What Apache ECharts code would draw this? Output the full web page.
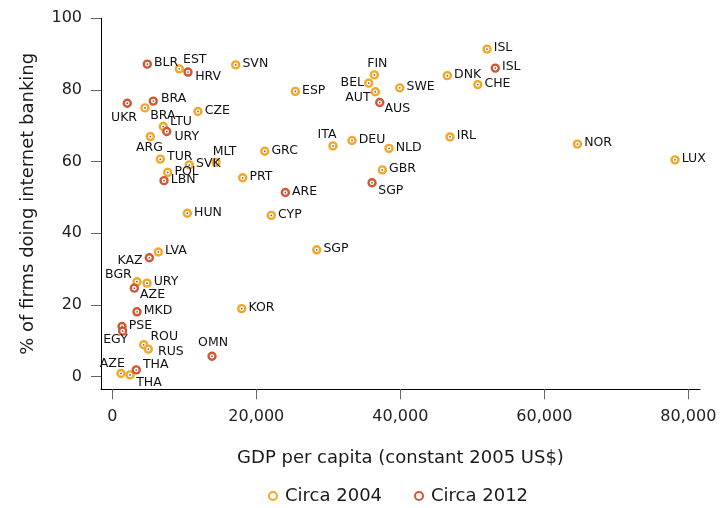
<!DOCTYPE html>
<html>
<head>
<meta charset="utf-8">
<script src="https://cdn.jsdelivr.net/npm/echarts@6/dist/echarts.min.js"></script>
<style>html,body{margin:0;padding:0;background:#fff}#c{width:727px;height:508px}</style>
</head>
<body>
<div id="c"></div>
<script>
// ---- Data ----
const codes2004 = ['EST','SVN','BRA','CZE','LTU','ARG','TUR','SVK','MLT','POL','GRC','PRT','HUN','CYP','LVA','BGR','URY','ROU','RUS','AZE','THA','KOR','SGP','ESP','FIN','BEL','AUT','SWE','ISL','DNK','CHE','ITA','DEU','NLD','IRL','GBR','NOR','LUX'];
const gdp2004 = [9310,17140,4540,11900,7080,5280,6670,10690,14400,7690,21170,18110,10420,22080,6390,3430,4820,4360,5000,1210,2460,17970,28390,25420,36390,35610,36530,39920,52040,46530,50750,30650,33290,38430,46900,37500,64600,78150];
const pct2004 = [85.9,87.0,75.0,74.0,69.8,67.0,60.7,59.1,59.8,57.0,62.9,55.5,45.6,45.0,34.8,26.5,26.1,8.9,7.7,0.9,0.5,19.0,35.4,79.6,84.2,81.9,79.5,80.6,91.4,84.0,81.5,64.4,65.9,63.7,66.9,57.7,64.9,60.5];

const codes2012 = ['BLR','HRV','UKR','BRA','URY','LBN','ARE','KAZ','AZE','MKD','PSE','EGY','OMN','THA','AUS','ISL','SGP'];
const gdp2012 = [4860,10510,2080,5690,7560,7180,24030,5140,3060,3430,1350,1440,13850,3330,37140,53190,36070];
const pct2012 = [87.2,85.0,76.3,76.9,68.4,54.7,51.4,33.2,24.7,18.1,14.0,12.7,5.7,1.9,76.5,86.1,54.1];

const seriesNames = ['Circa 2004','Circa 2012'];
const xTicks = [0,20000,40000,60000,80000];
const yTicks = [0,20,40,60,80,100];

// ---- Label layout (placement of country codes, not data) ----
const labelLayout2004 = {
  EST:['right',-3,-9.5], BRA:['right',-1.5,7.5], LTU:['right',0,-4.5], ARG:['right',-21,11],
  TUR:['right',0,-2], MLT:['right',-10,-11], ITA:['top',-6,2.5], FIN:['top',3,2],
  BEL:['left',2,0], AUT:['left',2,6], BGR:['left',1.5,-6.7], AZE:['left',10.5,-9.3],
  ROU:['right',0,-8], RUS:['right',3,2.3], THA:['right',-0.5,7.7]
};
const labelLayout2012 = {
  HRV:['right',0.5,4.7], UKR:['right',-23,15], BRA:['right',1,-2], URY:['right',1,5],
  KAZ:['left',0,2.6], AZE:['right',-1,7], EGY:['left',11.8,8.7], OMN:['top',1,0],
  THA:['right',0,-5], AUS:['right',-2,6.3], SGP:['right',-0.5,8.3]
};

const ORANGE = '#f5a623', RED = '#d4552f';
const FONT = 'DejaVu Sans';

function buildData(codes, xs, ys, layout) {
  return codes.map((c, i) => {
    const lp = layout[c] || ['right', 0, -1];
    return {
      name: c,
      value: [xs[i], ys[i]],
      label: { position: lp[0], offset: [lp[1], lp[2]] }
    };
  });
}
function dotData(xs, ys) { return xs.map((x, i) => [x, ys[i]]); }

const labelStyle = { show: true, formatter: p => p.name, fontFamily: FONT, fontSize: 12.5, color: '#111', distance: 2 };

const chart = echarts.init(document.getElementById('c'), null, { renderer: 'canvas' });
chart.setOption({
  animation: false,
  backgroundColor: '#fff',
  textStyle: { fontFamily: FONT },
  grid: { left: 101, top: 18.3, width: 599, height: 371, containLabel: false, outerBoundsMode: 'none' },
  legend: {
    data: seriesNames,
    left: 263, top: 482,
    itemWidth: 8, itemHeight: 8, itemGap: 32,
    textStyle: { fontFamily: FONT, fontSize: 18, color: '#1a1a1a', padding: [0, 0, 0, 3] }
  },
  xAxis: {
    type: 'value', min: -1570, max: 81620,
    name: 'GDP per capita (constant 2005 US$)', nameLocation: 'middle', nameGap: 60,
    nameTextStyle: { fontFamily: FONT, fontSize: 18, color: '#1a1a1a' },
    axisLine: { show: true, onZero: false, lineStyle: { color: '#000', width: 1 } },
    axisTick: { show: true, length: 10, customValues: xTicks, lineStyle: { color: '#666' } },
    axisLabel: { customValues: xTicks, margin: 20, fontFamily: FONT, fontSize: 16, color: '#222',
      formatter: v => String(v).replace(/\B(?=(\d{3})+(?!\d))/g, ',') },
    splitLine: { show: false }
  },
  yAxis: {
    type: 'value', min: -3.52, max: 100,
    name: '% of firms doing internet banking', nameLocation: 'middle', nameGap: 64,
    nameTextStyle: { fontFamily: FONT, fontSize: 18, color: '#1a1a1a' },
    axisLine: { show: true, onZero: false, lineStyle: { color: '#000', width: 1 } },
    axisTick: { show: true, length: 10, customValues: yTicks, lineStyle: { color: '#666' } },
    axisLabel: { customValues: yTicks, margin: 19, fontFamily: FONT, fontSize: 16, color: '#222' },
    splitLine: { show: false }
  },
  series: [
    {
      name: seriesNames[0], type: 'scatter', symbol: 'circle', symbolSize: 7,
      itemStyle: { color: '#fff', borderColor: ORANGE, borderWidth: 2.4, opacity: 1 },
      label: labelStyle, z: 3,
      data: buildData(codes2004, gdp2004, pct2004, labelLayout2004)
    },
    {
      name: seriesNames[1], type: 'scatter', symbol: 'circle', symbolSize: 7,
      itemStyle: { color: '#fff', borderColor: RED, borderWidth: 2.4, opacity: 1 },
      label: labelStyle, z: 4,
      data: buildData(codes2012, gdp2012, pct2012, labelLayout2012)
    },
    {
      name: 'dots2004', type: 'scatter', symbolSize: 1.8, silent: true, z: 5,
      itemStyle: { color: '#444' }, data: dotData(gdp2004, pct2004)
    },
    {
      name: 'dots2012', type: 'scatter', symbolSize: 1.8, silent: true, z: 6,
      itemStyle: { color: '#444' }, data: dotData(gdp2012, pct2012)
    }
  ]
});
</script>
</body>
</html>
